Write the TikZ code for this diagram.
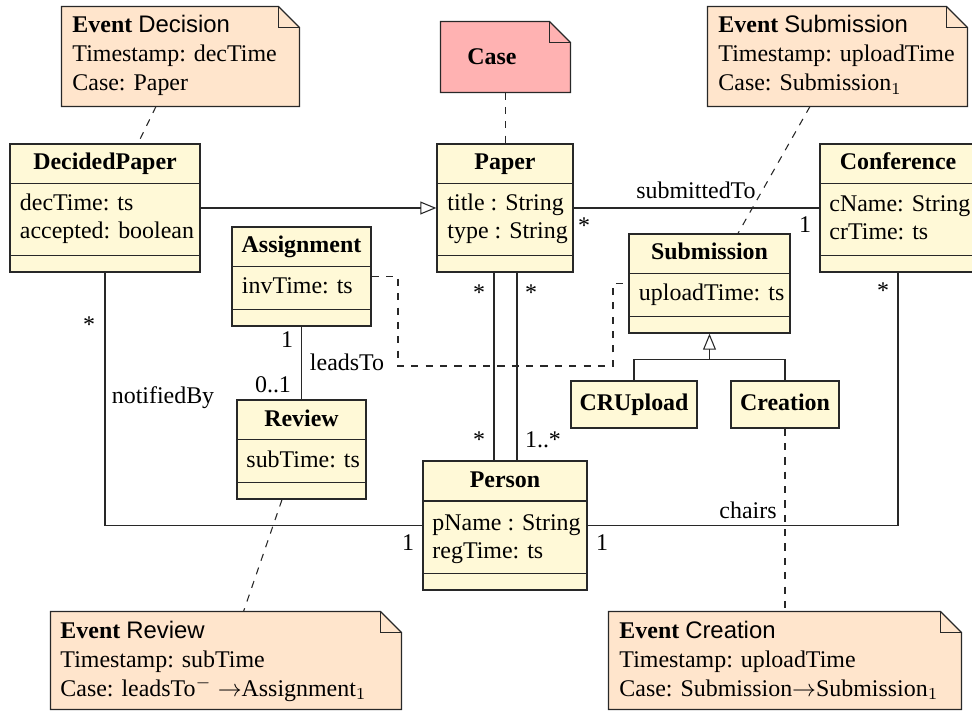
\documentclass[tikz,border=0pt]{standalone}
\usepackage{fontspec}
\setmainfont{Liberation Serif}
\setsansfont{Liberation Sans}
\usetikzlibrary{arrows.meta,calc,fit}

\definecolor{clsfill}{RGB}{255,249,215}
\definecolor{notefill}{RGB}{255,229,204}
\definecolor{casefill}{RGB}{255,178,178}
\definecolor{edge}{RGB}{40,40,40}

% note outline with a folded top-right corner, drawn around a named frame node
\newcommand\foldnote[2]{%
  \draw[#1] (#2.north west) -- ($(#2.north east)+(-21,0)$) -- ($(#2.north east)+(0,21)$)
        -- (#2.south east) -- (#2.south west) -- cycle;
  \draw[#1, fill=none] ($(#2.north east)+(-21,0)$) -- ++(0,21) -- ++(21,0);
}
% the two compartment separators of a class box
\newcommand\compart[1]{%
  \draw[sep] ($(#1.north west)+(0,40.5)$) -- ($(#1.north east)+(0,40.5)$);
  \draw[sep] ($(#1.south west)+(0,-17)$) -- ($(#1.south east)+(0,-17)$);
}

\begin{document}
\begin{tikzpicture}[x=0.4181pt,y=-0.4181pt,
  cls/.style={draw=edge, fill=clsfill, line width=0.55pt, inner sep=0pt},
  frame/.style={draw=none, inner sep=0pt},
  notebody/.style={draw=edge, fill=notefill, line width=0.55pt, line join=miter},
  casebody/.style={notebody, fill=casefill},
  sep/.style={draw=edge, line width=0.55pt},
  conn/.style={draw=edge, line width=0.45pt},
  link/.style={conn, dashed},
  inherit/.style={conn, -{Triangle[open, length=6.7pt, width=5.4pt]}},
  ttl/.style={anchor=base, inner sep=0pt, font=\bfseries},
  attr/.style={anchor=base west, inner sep=0pt},
  lbl/.style={anchor=base, inner sep=0pt},
]
\useasboundingbox (0,0) rectangle (972,711);

% ---------- class boxes ----------
\node[cls, fit={(10,144) (200,272)}] (decided) {};
\node[cls, fit={(437,144) (573,272)}] (paper) {};
\node[cls, fit={(820,144) (976,272)}] (conf) {};
\node[cls, fit={(629,234) (790,333)}] (sub) {};
\node[cls, fit={(232,227) (371,326)}] (assign) {};
\node[cls, fit={(237,400) (366,499)}] (review) {};
\node[cls, fit={(423,461) (587,590)}] (person) {};
\node[cls, fit={(571,381) (697,428)}] (crup) {};
\node[cls, fit={(731,381) (839,428)}] (creation) {};
\compart{decided}
\compart{paper}
\compart{conf}
\compart{sub}
\compart{assign}
\compart{review}
\compart{person}

% ---------- notes ----------
\node[frame, fit={(62,7) (299,106)}] (evdec) {};
\node[frame, fit={(441,22) (570,92)}] (casenote) {};
\node[frame, fit={(708,7) (967,106)}] (evsub) {};
\node[frame, fit={(51,612) (401,709)}] (evrev) {};
\node[frame, fit={(609,612) (961,709)}] (evcre) {};
\foldnote{notebody}{evdec}
\foldnote{casebody}{casenote}
\foldnote{notebody}{evsub}
\foldnote{notebody}{evrev}
\foldnote{notebody}{evcre}

% ---------- class texts ----------
\node[ttl] (decided-t) at (105,170) {DecidedPaper};
\node[attr] (decided-a1) at (19.5,211) {decTime: ts};
\node[attr] (decided-a2) at (19.5,239) {accepted: boolean};

\node[ttl] (paper-t) at (505,170) {Paper};
\node[attr] (paper-a1) at (447,211) {title : String};
\node[attr] (paper-a2) at (447,239) {type : String};

\node[ttl] (conf-t) at (898,170) {Conference};
\node[attr] (conf-a1) at (829,212) {cName: String};
\node[attr] (conf-a2) at (829,240) {crTime: ts};

\node[ttl] (sub-t) at (709.5,260) {Submission};
\node[attr] (sub-a1) at (638.5,301) {uploadTime: ts};

\node[ttl] (assign-t) at (301.5,252.5) {Assignment};
\node[attr] (assign-a1) at (241.5,294) {invTime: ts};

\node[ttl] (review-t) at (301.5,426.5) {Review};
\node[attr] (review-a1) at (246,468) {subTime: ts};

\node[ttl] (person-t) at (505,488) {Person};
\node[attr] (person-a1) at (432,530) {pName : String};
\node[attr] (person-a2) at (432,558) {regTime: ts};

\node[ttl] (crup-t) at (634,411) {CRUpload};
\node[ttl] (creation-t) at (785,411) {Creation};

% ---------- note texts ----------
\node[attr] (evdec-1) at (72,33) {\textbf{Event} \textsf{Decision}};
\node[attr] (evdec-2) at (72,62) {Timestamp: decTime};
\node[attr] (evdec-3) at (72,91) {Case: Paper};

\node[ttl] (case-t) at (492,64.5) {Case};

\node[attr] (evsub-1) at (718,33) {\textbf{Event} \textsf{Submission}};
\node[attr] (evsub-2) at (718,62) {Timestamp: uploadTime};
\node[attr] (evsub-3) at (718,91) {Case: Submission$_1$};

\node[attr] (evrev-1) at (60,638) {\textbf{Event} \textsf{Review}};
\node[attr] (evrev-2) at (60,667) {Timestamp: subTime};
\node[attr] (evrev-3) at (60,696) {Case: leadsTo$^-$ $\rightarrow$Assignment$_1$};

\node[attr] (evcre-1) at (619,638) {\textbf{Event} \textsf{Creation}};
\node[attr] (evcre-2) at (619,667) {Timestamp: uploadTime};
\node[attr] (evcre-3) at (619,696) {Case: Submission$\rightarrow$Submission$_1$};

% ---------- connectors ----------
\draw[link] ($(evdec.south)+(-24.5,0)$) -- ($(decided.north)+(33,0)$);
\draw[link] (casenote.south) -- (casenote.south |- paper.north);
\draw[inherit] (decided.east) -- (paper.west);
\draw[conn] (paper.east) -- (conf.west);
\draw[link] ($(evsub.south)+(-27.5,0)$) -- ($(sub.north)+(28.5,0)$);

\coordinate (acA) at (398,366);
\coordinate (acB) at (613,366);
\draw[link] (assign.east) -| (acA) -- (acB) |- (sub.west);

\draw[conn] ($(paper.south)+(-11,0)$) -- ($(person.north)+(-11,0)$);
\draw[conn] ($(paper.south)+(12,0)$) -- ($(person.north)+(12,0)$);

\draw[conn] (decided.south) |- (person.west);
\draw[conn] (conf.south) |- (person.east);
\draw[conn] (assign.south) -- (review.north);
\draw[link] ($(review.south)+(-19.5,0)$) -- ($(evrev.north)+(17.5,0)$);
\draw[link] (creation.south) -- (evcre.north);

\coordinate (genjoin) at ($(sub.south)+(0,26)$);
\draw[conn] (crup.north) |- (genjoin) -| (creation.north);
\draw[inherit] (genjoin) -- (sub.south);

% ---------- association labels ----------
\node[lbl] (lbl-subto) at (696,199) {submittedTo};
\node[lbl] (m-pc1) at (584,234) {*};
\node[lbl] (m-pc2) at (805,233) {1};
\node[lbl] (m-pp1) at (479,301) {*};
\node[lbl] (m-pp2) at (531,301) {*};
\node[lbl] (m-pp3) at (479,448) {*};
\node[lbl] (m-pp4) at (543,448) {1..*};
\node[lbl] (m-nb1) at (89,333) {*};
\node[lbl] (lbl-nb) at (163,404) {notifiedBy};
\node[lbl] (m-nb2) at (408,550) {1};
\node[lbl] (m-ch2) at (602,550) {1};
\node[lbl] (m-lt1) at (287,348) {1};
\node[lbl] (lbl-lt) at (347,371) {leadsTo};
\node[lbl] (m-lt2) at (273,393) {0..1};
\node[lbl] (lbl-ch) at (748,518) {chairs};
\node[lbl] (m-ch1) at (883,299) {*};
\end{tikzpicture}
\end{document}
